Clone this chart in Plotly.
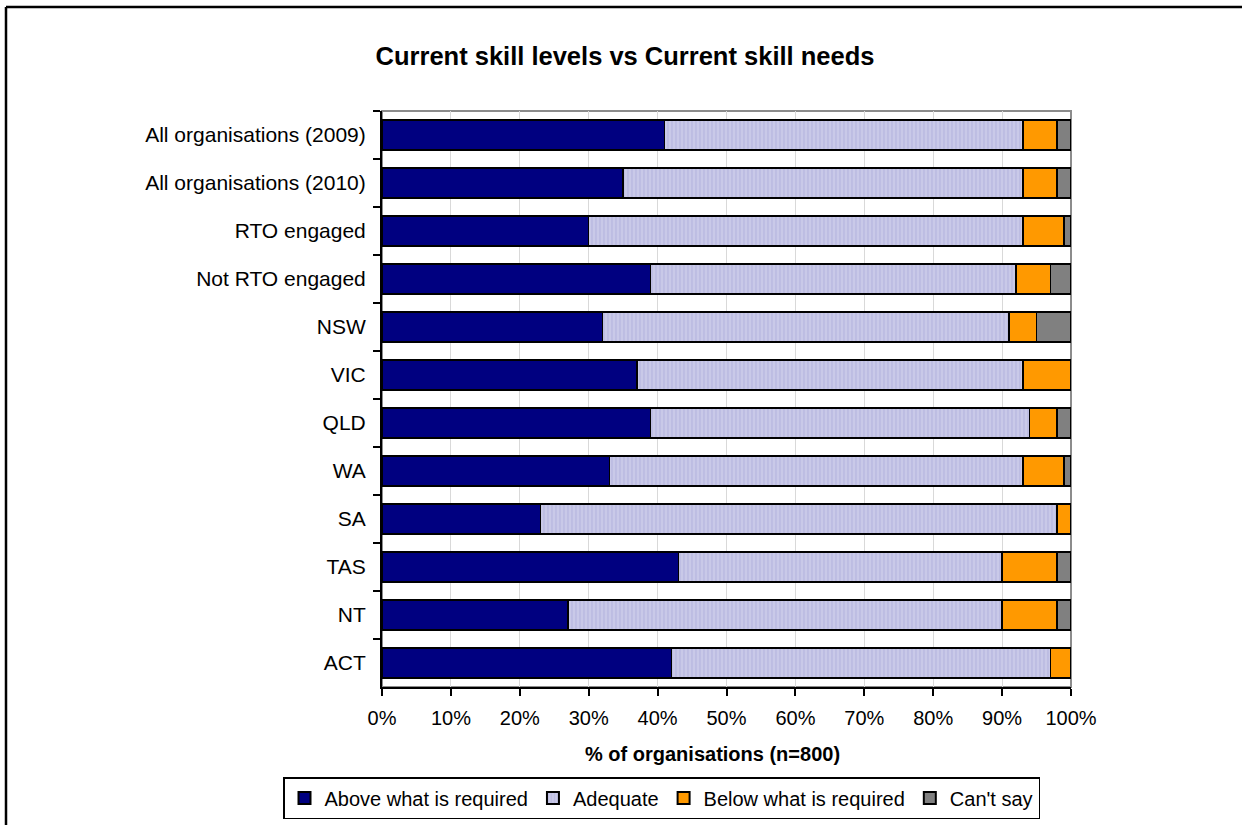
import plotly.graph_objects as go

# Survey groups, top to bottom
groups = [
    "All organisations (2009)", "All organisations (2010)", "RTO engaged",
    "Not RTO engaged", "NSW", "VIC", "QLD", "WA", "SA", "TAS", "NT", "ACT",
]

# Share of organisations (%) per rating
above = [41, 35, 30, 39, 32, 37, 39, 33, 23, 43, 27, 42]
adequate = [52, 58, 63, 53, 59, 56, 55, 60, 75, 47, 63, 55]
below = [5, 5, 6, 5, 4, 7, 4, 6, 2, 8, 8, 3]
cant_say = [2, 2, 1, 3, 5, 0, 2, 1, 0, 2, 2, 0]

x_ticks = list(range(0, 101, 10))
x_tick_text = [f"{v}%" for v in x_ticks]

FONT = "Arial, Liberation Sans, sans-serif"
W, H = 1242, 825
L, R, T, B = 382, 1071, 111, 687


def px(xp):
    return (xp - L) / (R - L)


def py(yp):
    return (B - yp) / (B - T)


fig = go.Figure()
outline = dict(color="black", width=1.5)

fig.add_trace(go.Bar(
    y=groups, x=above, orientation="h", name="Above what is required",
    marker=dict(color="#000080", line=outline),
))
fig.add_trace(go.Bar(
    y=groups, x=adequate, orientation="h", name="Adequate",
    marker=dict(
        color="#c9c9e8", line=outline,
        pattern=dict(shape="|", fgcolor="#a3a3d6", size=4, solidity=0.3,
                     fillmode="overlay"),
    ),
))
fig.add_trace(go.Bar(
    y=groups, x=below, orientation="h", name="Below what is required",
    marker=dict(color="#ff9900", line=outline),
))
fig.add_trace(go.Bar(
    y=groups, x=cant_say, orientation="h", name="Can't say",
    marker=dict(color="#808080", line=outline),
))

fig.update_layout(
    width=W, height=H,
    margin=dict(l=L, r=W - R, t=T, b=H - B, autoexpand=False),
    barmode="stack", bargap=0.375,
    paper_bgcolor="white", plot_bgcolor="white",
    font=dict(family=FONT, size=20, color="black"),
    title=dict(
        text="Current skill levels vs Current skill needs",
        font=dict(family=FONT, size=25.5, color="black", weight="bold"),
        xref="container", x=625 / W, xanchor="center",
        yref="container", y=1 - 56 / H, yanchor="middle",
    ),
    xaxis=dict(
        range=[0, 100], tickvals=x_ticks, ticktext=x_tick_text,
        showgrid=True, gridcolor="#d9d9d9", gridwidth=1,
        showline=True, linecolor="black", linewidth=2,
        ticks="outside", ticklen=7, tickwidth=2, tickcolor="black",
        ticklabelstandoff=5,
        zeroline=False, fixedrange=True, automargin=False,
        tickfont=dict(family=FONT, size=20, color="black"),
    ),
    yaxis=dict(
        categoryorder="array", categoryarray=groups, autorange="reversed",
        showline=True, linecolor="black", linewidth=2,
        ticks="outside", ticklen=7, tickwidth=2, tickcolor="black",
        tickson="boundaries", showgrid=False, automargin=False,
        ticklabelstandoff=10,
        tickfont=dict(family=FONT, size=21, color="black"),
    ),
    legend=dict(
        orientation="h", traceorder="normal",
        x=px(283), xanchor="left", y=py(798), yanchor="middle",
        bordercolor="black", borderwidth=1.5, bgcolor="white",
        font=dict(family=FONT, size=20, color="black"),
        itemwidth=30, itemsizing="constant",
        tracegroupgap=0,
    ),
    showlegend=True,
)

# Axis title below the tick labels
fig.add_annotation(
    text="% of organisations (n=800)", xref="paper", yref="paper",
    x=px(712), y=py(754), xanchor="center", yanchor="middle",
    showarrow=False,
    font=dict(family=FONT, size=20, color="black", weight="bold"),
)

# Plot-area border (gray) and the outer chart frame
fig.add_shape(type="rect", xref="paper", yref="paper", x0=0, x1=1, y0=0, y1=1,
              line=dict(color="#8c8c8c", width=2), layer="below")
fig.add_shape(type="line", xref="paper", yref="paper",
              x0=px(6), x1=px(1300), y0=py(7), y1=py(7),
              line=dict(color="black", width=2.5))
fig.add_shape(type="line", xref="paper", yref="paper",
              x0=px(6), x1=px(6), y0=py(7), y1=py(900),
              line=dict(color="black", width=2.5))

fig.write_html("out.html")
